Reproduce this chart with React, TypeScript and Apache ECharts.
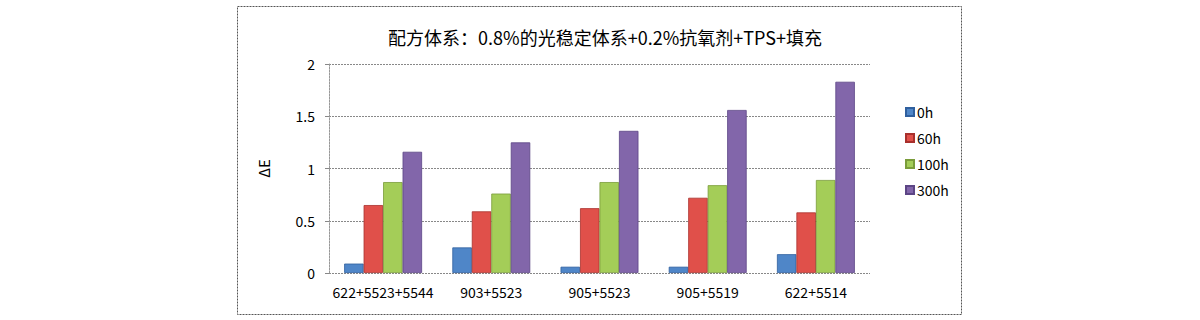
import React, { useEffect, useRef } from "react";
import * as echarts from "echarts";

const categories = ["622+5523+5544", "903+5523", "905+5523", "905+5519", "622+5514"];
const seriesNames = ["0h", "60h", "100h", "300h"];
const values0h = [0.09, 0.245, 0.06, 0.06, 0.18];
const values60h = [0.65, 0.59, 0.62, 0.72, 0.58];
const values100h = [0.87, 0.76, 0.87, 0.84, 0.89];
const values300h = [1.16, 1.25, 1.36, 1.56, 1.83];
const yTicks = [0, 0.5, 1, 1.5, 2];
const titleText = "配方体系：0.8%的光稳定体系+0.2%抗氧剂+TPS+填充";
const yName = "ΔE";

const colors = ["#4f86c8", "#e0504a", "#a4cd58", "#8266aa"];
const borders = ["#2f5f9e", "#a8302c", "#7a9c3a", "#5c4585"];

export default function App() {
  const ref = useRef<HTMLDivElement>(null);
  useEffect(() => {
    if (!ref.current) return;
    const chart = echarts.init(ref.current, null, { renderer: "svg" });
    const all = [values0h, values60h, values100h, values300h];
    const font = "'Noto Sans CJK SC', 'DejaVu Sans', sans-serif";
    chart.setOption({
      animation: false,
      backgroundColor: "#ffffff",
      textStyle: { fontFamily: font },
      graphic: [
        {
          type: "rect",
          shape: { x: 237.5, y: 6.5, width: 724, height: 308 },
          style: { fill: "none", stroke: "#555", lineWidth: 1, lineDash: [2, 1] },
          silent: true,
        },
      ],
      title: {
        text: titleText,
        left: 600,
        top: 23,
        textAlign: "center",
        textStyle: { fontSize: 18, fontWeight: "normal", color: "#000", fontFamily: font },
      },
      legend: {
        orient: "vertical",
        left: 900,
        top: 100,
        itemWidth: 8,
        itemHeight: 8,
        itemGap: 12,
        icon: "rect",
        data: seriesNames,
        textStyle: { fontSize: 14, color: "#000", fontFamily: font, padding: [0, 0, 0, -2] },
      },
      grid: { left: 329, right: 330, top: 64, bottom: 47, containLabel: false },
      xAxis: {
        type: "category",
        data: categories,
        axisLine: { show: false },
        axisTick: { show: false },
        axisLabel: { fontSize: 14, color: "#000", margin: 12, interval: 0, fontFamily: font },
      },
      yAxis: {
        type: "value",
        min: yTicks[0],
        max: yTicks[yTicks.length - 1],
        interval: 0.5,
        name: yName,
        nameLocation: "middle",
        nameGap: 58,
        nameTextStyle: { fontSize: 15, color: "#000", fontFamily: font },
        axisLine: { show: true, lineStyle: { color: "#999", type: [2, 1] } },
        axisTick: { show: true, length: 4, lineStyle: { color: "#888" } },
        axisLabel: { fontSize: 14, color: "#000", margin: 14, fontFamily: font },
        splitLine: { show: true, lineStyle: { color: "#888", type: [2, 1] } },
      },
      series: seriesNames.map((n, i) => ({
        name: n,
        type: "bar",
        data: all[i],
        barGap: "0%",
        barCategoryGap: "28%",
        itemStyle: { color: colors[i], borderColor: borders[i], borderWidth: 0.8 },
      })),
    });
    return () => chart.dispose();
  }, []);
  return <div ref={ref} style={{ position: "fixed", left: 0, top: 0, width: 1200, height: 320 }} />;
}
